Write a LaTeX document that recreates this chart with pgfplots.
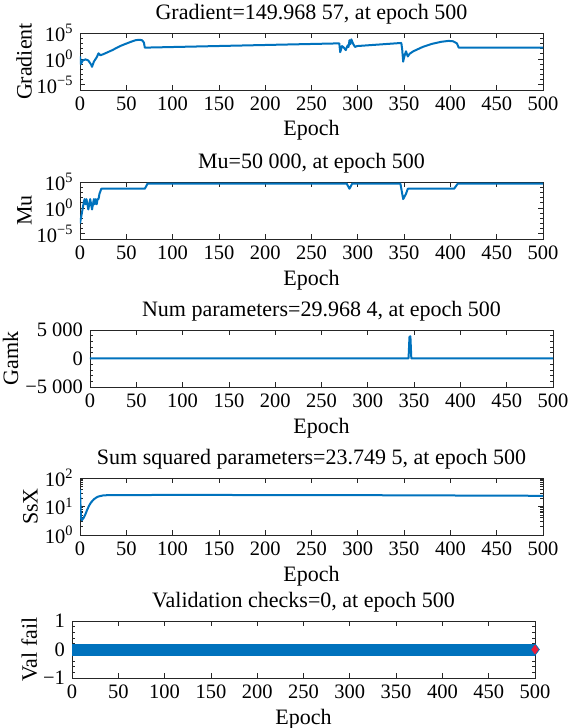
\documentclass[border=0pt]{standalone}
\usepackage{fontspec}
\setmainfont{Liberation Serif}
\usepackage{pgfplots}
\pgfplotsset{compat=1.18}
\definecolor{mblue}{rgb}{0,0.447,0.741}
\definecolor{axgray}{rgb}{0.15,0.15,0.15}
\definecolor{mred}{rgb}{0.93,0.11,0.22}
\pgfplotsset{
  mline/.style={mblue, line width=2pt, line join=round},
  mstyle/.style={
    scale only axis, width=463pt, height=57pt,
    xmin=0, xmax=500, xtick={0,50,...,500},
    tick align=inside, major tick length=5pt, minor tick length=3pt,
    axis line style={axgray, line width=0.7pt},
    every tick/.style={axgray, line width=0.7pt},
    tick label style={font=\fontsize{20.5}{23}\selectfont, text=black},
    label style={font=\fontsize{22}{25}\selectfont},
    title style={font=\fontsize{22}{25}\selectfont, yshift=-4pt},
    /pgf/number format/assume math mode=true,
    xlabel={Epoch}, xlabel shift=-4pt,
  }
}
\begin{document}
\fontsize{20.5}{23}\selectfont
\begin{tikzpicture}
\useasboundingbox (0,0) rectangle (568pt,-728pt);
% Panel 1: Gradient
\begin{axis}[mstyle, at={(80pt,-33pt)}, anchor=north west,
  ymode=log, ymin=1e-6, ymax=1e5,
  ytick={1e-5,1,1e5},
  yticklabels={10\textsuperscript{−5},10\textsuperscript{0},10\textsuperscript{5}},
  minor ytick={1e-6,1e-4,1e-3,1e-2,1e-1,10,100,1e3,1e4},
  ylabel={Gradient}, ylabel shift=-9pt,
  title={Gradient=149.968 57, at epoch 500}]
\addplot[mline] coordinates {
(0,3) (1,0.1) (3,0.5) (6,0.8) (9,0.5) (12,0.08) (13,0.03) (15,0.3) (18,2) (20,12)
(22,5) (25,8) (30,20) (35,50) (40,150) (45,400) (50,900) (55,2000) (60,4000)
(64,5000) (67,4000) (69,1500) (70,150) (280,1000) (281,20) (283,300) (285,150)
(287,50) (289,400) (290,200) (291,4000) (292,700) (293,6000) (295,800) (297,200)
(299,300) (347,1200) (348,50) (349,0.3) (350,2) (352,30) (354,3) (356,10) (360,30)
(370,200) (380,800) (390,2000) (398,3000) (403,2500) (407,1000) (409,150) (500,150)
};
\end{axis}
% Panel 2: Mu
\begin{axis}[mstyle, at={(80pt,-182pt)}, anchor=north west,
  ymode=log, ymin=1e-6, ymax=1e5,
  ytick={1e-5,1,1e5},
  yticklabels={10\textsuperscript{−5},10\textsuperscript{0},10\textsuperscript{5}},
  minor ytick={1e-6,1e-4,1e-3,1e-2,1e-1,10,100,1e3,1e4},
  ylabel={Mu}, ylabel shift=-9pt,
  title={Mu=50 000, at epoch 500}]
\addplot[mline] coordinates {
(0,0.001) (1,0.01) (2,0.1) (3,1) (4,10) (5,50) (6,5) (7,50) (8,5) (9,0.5) (10,5)
(11,50) (12,5) (13,0.5) (14,5) (15,50) (16,5) (17,50) (18,5) (19,50) (20,50)
(21,500) (23,5000) (70,5000) (73,50000) (288,50000) (291,5000) (294,50000)
(346,50000) (347,5000) (348,500) (349,50) (352,500) (354,5000) (404,5000)
(408,50000) (500,50000)
};
\end{axis}
% Panel 3: Gamk
\begin{axis}[mstyle, at={(90pt,-330pt)}, anchor=north west,
  ymin=-5000, ymax=5000, ytick={-5000,0,5000},
  yticklabels={−5 000,0,5 000}, minor y tick num=4,
  ylabel={Gamk}, ylabel shift=-7pt,
  title={Num parameters=29.968 4, at epoch 500}]
\addplot[mline] coordinates {
(0,29) (344,30) (345,3800) (346,3900) (347,30) (500,30)
};
\end{axis}
% Panel 4: SsX
\begin{axis}[mstyle, at={(80pt,-478pt)}, anchor=north west,
  ymode=log, ymin=1, ymax=100,
  ytick={1,10,100},
  yticklabels={10\textsuperscript{0},10\textsuperscript{1},10\textsuperscript{2}},
  ylabel={SsX}, ylabel shift=-7pt,
  title={Sum squared parameters=23.749 5, at epoch 500}]
\addplot[mline] coordinates {
(0,40) (1,4) (2,3.3) (4,4) (6,5.5) (8,8) (10,11) (12,14) (15,18) (18,21) (20,22.5)
(25,24.5) (30,25) (100,25.5) (300,25) (500,23.75)
};
\end{axis}
% Panel 5: Val fail
\begin{axis}[mstyle, at={(72pt,-621pt)}, anchor=north west,
  ymin=-1, ymax=1, ytick={-1,0,1},
  yticklabels={−1,0,1}, minor y tick num=4,
  ylabel={Val fail}, ylabel shift=-8pt,
  title={Validation checks=0, at epoch 500}]
\addplot[mblue, line width=12pt, line cap=butt] coordinates {(0,0) (500,0)};
\addplot[mblue, only marks, mark=diamond*, mark size=6pt] coordinates {(500,0)};
\addplot[mred, only marks, mark=diamond*, mark size=4.5pt, mark options={fill=mred, draw=mred}] coordinates {(500,0)};
\end{axis}
\end{tikzpicture}
\end{document}
